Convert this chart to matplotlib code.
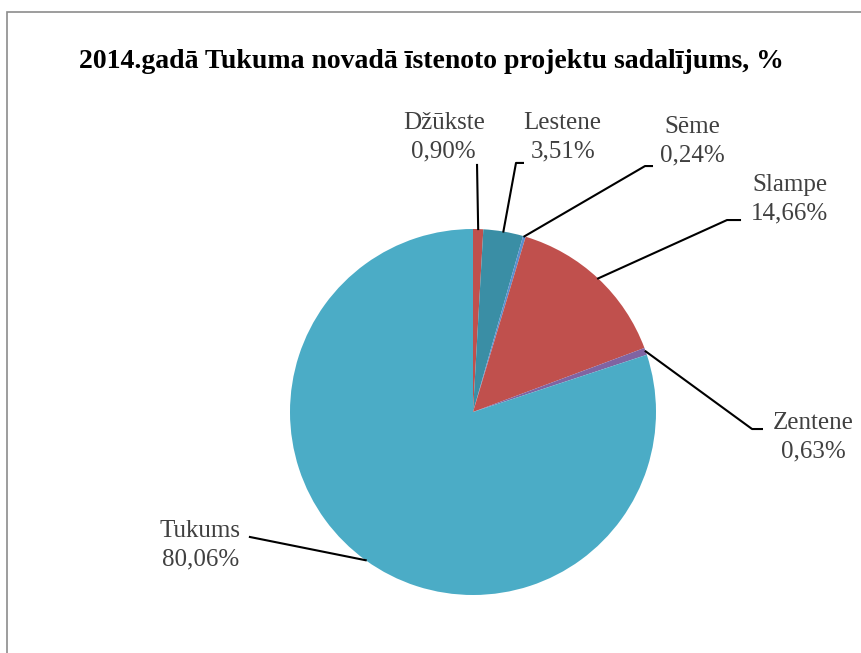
import matplotlib.pyplot as plt
import numpy as np
from matplotlib.patches import Rectangle

# Dati: projektu sadalījums pa pagastiem (%)
names = ["Džūkste", "Lestene", "Sēme", "Slampe", "Zentene", "Tukums"]
shares = [0.90, 3.51, 0.24, 14.66, 0.63, 80.06]
labels = ["0,90%", "3,51%", "0,24%", "14,66%", "0,63%", "80,06%"]
colors = ["#C0504D", "#3A8EA5", "#5A8FCF", "#C0504D", "#8064A2", "#4BACC6"]

# teksta novietojums un līniju lūzuma punkti (datu koordinātēs, r=1)
text_pos = [(-0.16, 1.50), (0.49, 1.50), (1.20, 1.48), (1.73, 1.16), (1.86, -0.14), (-1.49, -0.73)]
elbows = [(0.022, 1.35), (0.235, 1.361), (0.94, 1.344), (1.388, 1.049), (1.525, -0.093), (-1.164, -0.694)]
ends = [(0.022, 1.35), (0.273, 1.361), (0.978, 1.344), (1.459, 1.049), (1.579, -0.093), (-1.219, -0.683)]

plt.rcParams["font.family"] = ["Liberation Serif", "DejaVu Serif"]

fig = plt.figure(figsize=(8.62, 6.53), dpi=100)
W, H = 862, 653
cx, cy, r = 473, 412, 183
ax = fig.add_axes([(cx - r) / W, 1 - (cy + r) / H, 2 * r / W, 2 * r / H])

wedges, _ = ax.pie(shares, colors=colors, startangle=90, counterclock=False,
                   radius=1, wedgeprops=dict(linewidth=0))
ax.set_xlim(-1, 1)
ax.set_ylim(-1, 1)
ax.set_aspect("equal")
ax.axis("off")

for w, name, lab, tp, el, en in zip(wedges, names, labels, text_pos, elbows, ends):
    mid = np.deg2rad((w.theta1 + w.theta2) / 2)
    anchor = (np.cos(mid), np.sin(mid))
    ax.plot([anchor[0], el[0], en[0]], [anchor[1], el[1], en[1]],
            color="black", lw=1.5, clip_on=False)
    ax.text(tp[0], tp[1], name + "\n" + lab, ha="center", va="center",
            fontsize=18, color="#404040", linespacing=1.38, clip_on=False)

fig.text(431 / W, 1 - 61 / H, "2014.gadā Tukuma novadā īstenoto projektu sadalījums, %",
         ha="center", va="center", fontsize=20, fontweight="bold", color="black")

fig.add_artist(Rectangle((7 / W, -0.1), 1.0, (H - 12) / H + 0.1, transform=fig.transFigure,
                         fill=False, edgecolor="#8c8c8c", lw=1.2))

fig.savefig("out.png", dpi=100)
